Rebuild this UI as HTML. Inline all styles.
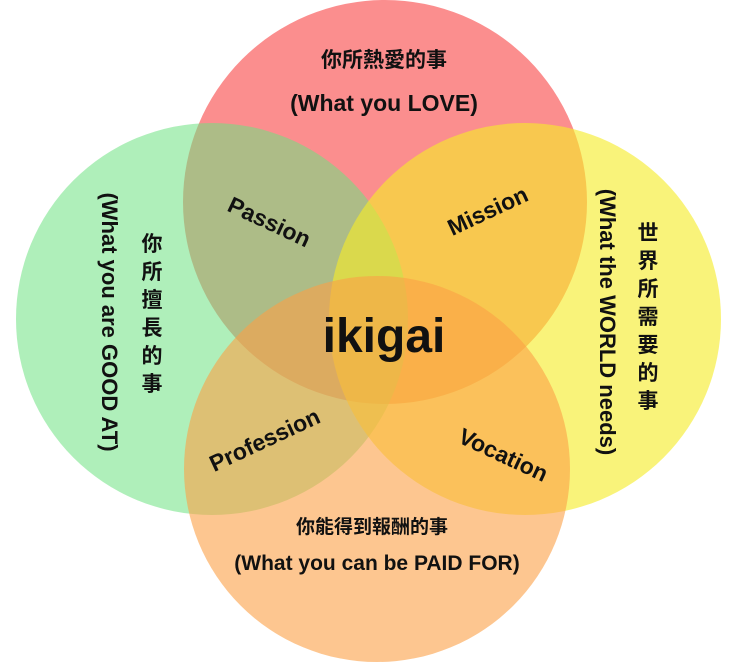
<!DOCTYPE html>
<html><head><meta charset="utf-8"><style>
html,body{margin:0;padding:0;background:#fff;width:740px;height:671px;overflow:hidden}
svg text{font-family:"Liberation Sans","Noto Sans CJK TC",sans-serif;font-weight:bold;fill:#111}
</style></head><body>
<svg width="740" height="671" viewBox="0 0 740 671" xmlns="http://www.w3.org/2000/svg">
<circle cx="385" cy="202" r="202" fill="rgb(248,60,60)" fill-opacity="0.58"/>
<circle cx="212" cy="319" r="196" fill="rgb(110,225,130)" fill-opacity="0.55"/>
<circle cx="525" cy="319" r="196" fill="rgb(245,235,40)" fill-opacity="0.62"/>
<circle cx="377" cy="469" r="193" fill="rgb(252,160,70)" fill-opacity="0.6"/>
<text x="384" y="67" font-size="21" text-anchor="middle">你所熱愛的事</text>
<text x="384" y="111" font-size="23" text-anchor="middle">(What you LOVE)</text>
<text x="0" y="0" font-size="23" text-anchor="middle" transform="translate(266,229) rotate(25)">Passion</text>
<text x="0" y="0" font-size="23" text-anchor="middle" transform="translate(491,218) rotate(-25)">Mission</text>
<text x="384" y="352" font-size="48" text-anchor="middle">ikigai</text>
<text x="0" y="0" font-size="23" text-anchor="middle" transform="translate(268,447) rotate(-25)">Profession</text>
<text x="0" y="0" font-size="23" text-anchor="middle" transform="translate(500,462) rotate(25)">Vocation</text>
<text x="0" y="0" font-size="22" text-anchor="middle" transform="translate(102,322) rotate(90)">(What you are GOOD AT)</text>
<text x="0" y="0" font-size="22" text-anchor="middle" transform="translate(600,322) rotate(90)">(What the WORLD needs)</text>
<g font-size="21" text-anchor="middle">
<text x="152" y="251">你</text><text x="152" y="279">所</text><text x="152" y="307">擅</text><text x="152" y="335">長</text><text x="152" y="363">的</text><text x="152" y="391">事</text>
<text x="648" y="240">世</text><text x="648" y="268">界</text><text x="648" y="296">所</text><text x="648" y="324">需</text><text x="648" y="352">要</text><text x="648" y="380">的</text><text x="648" y="408">事</text>
</g>
<text x="372" y="533" font-size="19" text-anchor="middle">你能得到報酬的事</text>
<text x="377" y="570" font-size="21" text-anchor="middle">(What you can be PAID FOR)</text>
</svg>
</body></html>
